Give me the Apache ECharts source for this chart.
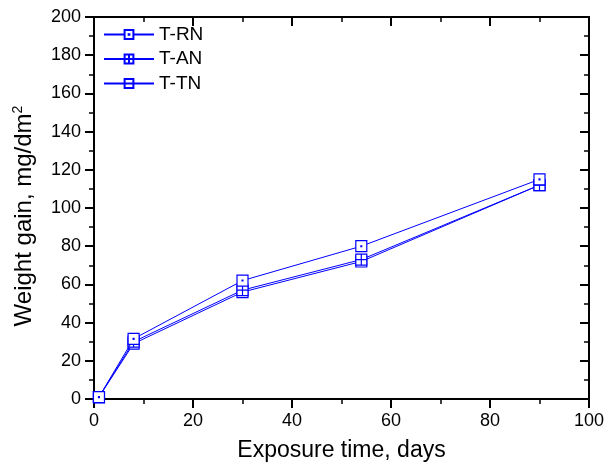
<!DOCTYPE html>
<html>
<head>
<meta charset="utf-8">
<script src="https://cdn.jsdelivr.net/npm/echarts@6/dist/echarts.min.js"></script>
<style>
html, body { margin: 0; padding: 0; background: #fff; }
#chart_weight { width: 608px; height: 470px; }
</style>
</head>
<body>
<div id="chart_weight"></div>
<script>
// exposure days
var days = [1, 8, 30, 54, 90];
// weight gain, mg/dm2
var t_rn = [1, 31.5, 62, 80, 115];
var t_an = [1, 30, 57, 73, 112];
var t_tn = [1, 29, 56, 72, 112];
var series_names = ['T-RN', 'T-AN', 'T-TN'];

var blue = '#0000ff';
// hollow squares: dot, cross, horizontal bar
var symbols = [
	'path://M0,0H10V10H0Z M4.6,4.6H5.4V5.4H4.6Z',
	'path://M0,0H10V10H0Z M5,0V10 M0,5H10',
	'path://M0,0H10V10H0Z M0,5H10'
];
var font = 'Liberation Sans, Arial, sans-serif';

var weightChart = echarts.init(document.getElementById('chart_weight'));

var use_data = [t_rn, t_an, t_tn].map((vals, i) => ({
	name: series_names[i],
	type: 'line',
	symbol: symbols[i],
	symbolSize: 11,
	showAllSymbol: true,
	lineStyle: { color: blue, width: 1 },
	itemStyle: { color: '#fff', borderColor: blue, borderWidth: 1.2 },
	data: days.map((d, j) => [d, vals[j]]),
	z: 3 - i
}));

function frameAxis(pos, show_label, inside){
	return {
		type: 'value',
		position: pos,
		min: 0,
		interval: 20,
		splitNumber: 5,
		axisLine: { show: true, onZero: false, lineStyle: { color: '#000', width: 2 } },
		axisTick: { show: true, inside: inside, length: 9, lineStyle: { color: '#000', width: 2 } },
		minorTick: { show: true, splitNumber: 2, length: 5, lineStyle: { color: '#000', width: 1.5 } },
		axisLabel: { show: show_label, color: '#000', fontSize: 18, fontFamily: font, margin: 13 },
		splitLine: { show: false }
	};
}

var xBottom = frameAxis('bottom', true, false);
xBottom.max = 100;
xBottom.name = 'Exposure time, days';
xBottom.nameLocation = 'middle';
xBottom.nameGap = 40;
xBottom.nameTextStyle = { color: '#000', fontSize: 23, fontFamily: font };
var xTop = frameAxis('top', false, true);
xTop.max = 100;

var yLeft = frameAxis('left', true, false);
yLeft.max = 200;
yLeft.name = 'Weight gain, mg/dm{sup|2}';
yLeft.nameLocation = 'middle';
yLeft.nameGap = 57;
yLeft.nameTextStyle = {
	color: '#000', fontSize: 24, fontFamily: font, padding: [0, 16, 0, 0],
	rich: { sup: { color: '#000', fontSize: 14, fontFamily: font, verticalAlign: 'top', lineHeight: 26 } }
};
var yRight = frameAxis('right', false, true);
yRight.max = 200;

weightChart.setOption({
	animation: false,
	grid: { left: 94, right: 19, top: 17, bottom: 71 },
	legend: {
		orient: 'vertical',
		left: 98,
		top: 20,
		itemWidth: 50,
		itemHeight: 11,
		itemGap: 5.5,
		textStyle: { color: '#000', fontSize: 19, fontFamily: font },
		data: series_names
	},
	xAxis: [xBottom, xTop],
	yAxis: [yLeft, yRight],
	series: use_data
});
</script>
</body>
</html>
